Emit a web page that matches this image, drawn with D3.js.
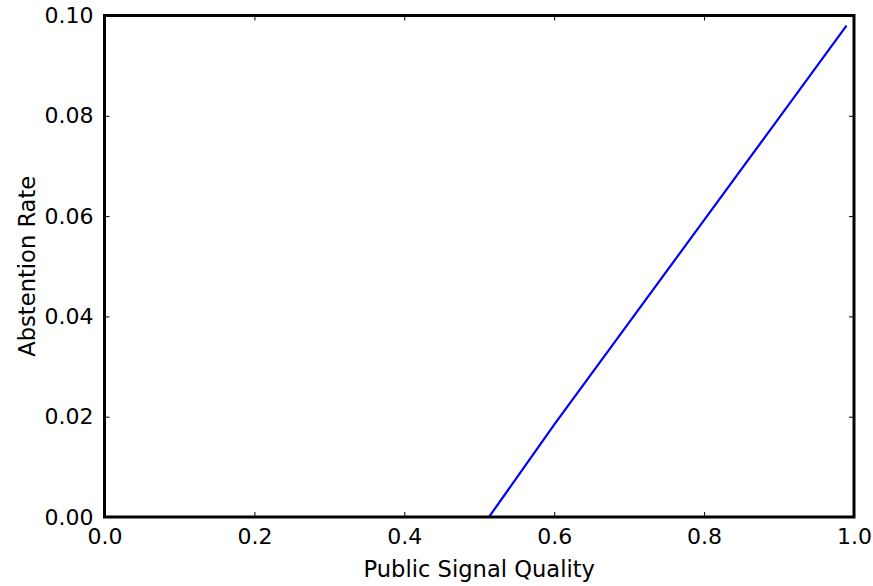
<!DOCTYPE html>
<meta charset="utf-8">
<style>
body { margin: 0; background: #fff; }
text { font-family: "DejaVu Sans", sans-serif; fill: #000; }
.frame { fill: none; stroke: #000; stroke-width: 3px; }
.line { fill: none; stroke: #0000ff; stroke-width: 2.2px; }
.tick line { stroke: #000; stroke-width: 1px; }
</style>
<svg width="873" height="586"></svg>
<script src="https://d3js.org/d3.v7.min.js"></script>
<script>
// public signal quality vs abstention rate
var quality    = [0.0, 0.1, 0.2, 0.3, 0.4, 0.5, 0.513, 0.6, 0.7, 0.8, 0.9, 0.99];
var abstention = [0.0, 0.0, 0.0, 0.0, 0.0, 0.0, 0.0, 0.0184, 0.0388, 0.0592, 0.0796, 0.098];
var xTicks = [0.0, 0.2, 0.4, 0.6, 0.8, 1.0];
var yTicks = [0.00, 0.02, 0.04, 0.06, 0.08, 0.10];

var svg = d3.select("svg"),
    margin = {top: 15.5, right: 19, bottom: 69, left: 104.5},
    width = +svg.attr("width") - margin.left - margin.right,
    height = +svg.attr("height") - margin.top - margin.bottom;

var x = d3.scaleLinear().domain([0, 1]).range([0, width]),
    y = d3.scaleLinear().domain([0, 0.1]).range([height, 0]);

var g = svg.append("g")
    .attr("transform", "translate(" + margin.left + "," + margin.top + ")");

var data = quality.map(function(q, i) { return {q: q, a: abstention[i]}; });

var line = d3.line()
    .x(function(d) { return x(d.q); })
    .y(function(d) { return y(d.a); });

g.append("path")
    .datum(data)
    .attr("class", "line")
    .attr("d", line);

function styleAxis(sel, hideText) {
  sel.select(".domain").remove();
  sel.selectAll("text").style("font-size", "22px");
  if (hideText) sel.selectAll("text").remove();
}

// bottom / top
g.append("g")
    .attr("transform", "translate(0," + height + ")")
    .call(d3.axisBottom(x).tickValues(xTicks).tickFormat(d3.format(".1f")).tickSize(-5).tickPadding(11))
    .call(function(s) { styleAxis(s, false); });
g.append("g")
    .call(d3.axisTop(x).tickValues(xTicks).tickSize(-5))
    .call(function(s) { styleAxis(s, true); });

// left / right
g.append("g")
    .call(d3.axisLeft(y).tickValues(yTicks).tickFormat(d3.format(".2f")).tickSize(-5).tickPadding(11))
    .call(function(s) { styleAxis(s, false); });
g.append("g")
    .attr("transform", "translate(" + width + ",0)")
    .call(d3.axisRight(y).tickValues(yTicks).tickSize(-5))
    .call(function(s) { styleAxis(s, true); });

g.append("rect")
    .attr("class", "frame")
    .attr("width", width)
    .attr("height", height);

svg.append("text")
    .attr("x", margin.left + width / 2)
    .attr("y", 577)
    .attr("text-anchor", "middle")
    .style("font-size", "22.6px")
    .text("Public Signal Quality");

svg.append("text")
    .attr("transform", "translate(34.5," + (margin.top + height / 2) + ") rotate(-90)")
    .attr("text-anchor", "middle")
    .style("font-size", "22.6px")
    .text("Abstention Rate");
</script>
